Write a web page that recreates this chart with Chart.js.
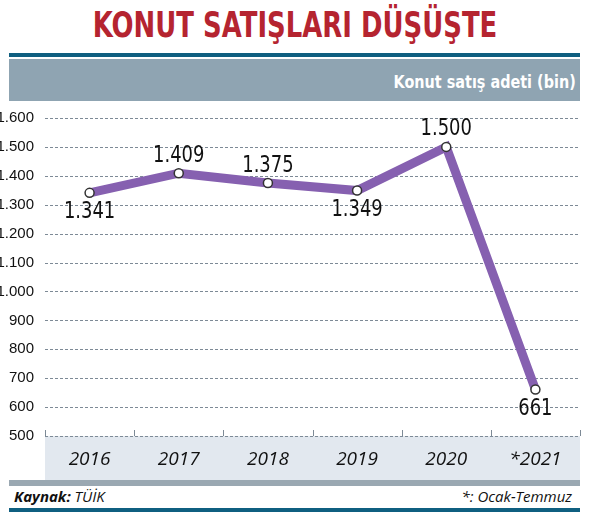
<!DOCTYPE html>
<html><head><meta charset="utf-8">
<script src="https://cdn.jsdelivr.net/npm/chart.js@4/dist/chart.umd.min.js"></script>
<style>
body{margin:0;width:590px;height:521px;background:#fff;position:relative;overflow:hidden;font-family:'DejaVu Sans',sans-serif}
.abs{position:absolute}
</style></head><body>
<div class="abs" style="left:0;top:4px;width:590px;text-align:center;font-size:36px;font-weight:bold;color:#b52430;transform:scaleX(0.72);font-family:'DejaVu Sans',sans-serif">KONUT SATIŞLARI DÜŞÜŞTE</div>
<div class="abs" style="left:9px;top:53px;width:571px;height:4px;background:#0f5f80"></div>
<div class="abs" style="left:9px;top:59px;width:571px;height:42px;background:#8fa4b2"></div>
<div class="abs" style="right:14px;top:71px;color:#fff;font-weight:bold;font-size:18px;transform:scaleX(0.8);transform-origin:right center">Konut satış adeti (bin)</div>
<div class="abs" style="left:45px;top:436px;width:535px;height:44px;background:#e2e8ef"></div>
<div class="abs" style="left:9px;top:480px;width:571px;height:6px;background:#9aa8b2"></div>
<div class="abs" style="left:14px;top:486px;font-family:'Open Sans',sans-serif;font-style:italic;font-size:15px;color:#111"><b>Kaynak:</b> TÜİK</div>
<div class="abs" style="right:18px;top:486px;font-family:'Open Sans',sans-serif;font-style:italic;font-size:15px;color:#111">*: Ocak-Temmuz</div>
<div class="abs" style="left:9px;top:508px;width:571px;height:4px;background:#0f5f80"></div>
<canvas id="c" class="abs" style="left:0;top:100px;width:590px;height:380px"></canvas>
<script>
const categories=['2016','2017','2018','2019','2020','*2021'];
const values=[1341,1409,1375,1349,1500,661];
const valueLabels=['1.341','1.409','1.375','1.349','1.500','661'];
const labelBelow=[true,false,false,true,false,true];
const yTicks=[500,600,700,800,900,1000,1100,1200,1300,1400,1500,1600];
const fmt=v=>v>=1000?(Math.floor(v/1000)+'.'+String(v%1000).padStart(3,'0')):String(v);
const F="'DejaVu Sans',sans-serif";
const gridPlugin={id:'grid',beforeDatasetsDraw(ch){const c=ch.ctx,y=ch.scales.y,a=ch.chartArea;c.save();c.strokeStyle='#7d8a96';c.lineWidth=1;c.setLineDash([3,2]);
yTicks.forEach(v=>{const py=Math.round(y.getPixelForValue(v))+0.5;c.beginPath();c.moveTo(a.left,py);c.lineTo(a.right,py);c.stroke();});
c.setLineDash([]);const x=ch.scales.x;for(let i=0;i<=categories.length;i++){const px=Math.round(x.getPixelForValue(i-0.5))+0.5;const py=y.getPixelForValue(500);c.beginPath();c.moveTo(px,py);c.lineTo(px,py-6);c.stroke();}
c.restore();}};
const lblPlugin={id:'lbl',afterDatasetsDraw(ch){const c=ch.ctx;const m=ch.getDatasetMeta(0);
m.data.forEach((p,i)=>{c.save();c.translate(p.x,labelBelow[i]?p.y+8:p.y-6);c.scale(0.78,1);c.font='23px '+F;c.fillStyle='#111';c.textAlign='center';c.textBaseline=labelBelow[i]?'top':'bottom';c.fillText(valueLabels[i],0,0);c.restore();});}};
new Chart(document.getElementById('c'),{type:'line',
data:{labels:categories,datasets:[{data:values,borderColor:'#8660b0',borderWidth:9,pointBackgroundColor:'#fff',pointBorderColor:'#333',pointBorderWidth:1.5,pointRadius:4.5,tension:0}]},
options:{responsive:false,animation:false,devicePixelRatio:1,layout:{padding:{top:18,right:10,left:0,bottom:0}},
plugins:{legend:{display:false},tooltip:{enabled:false}},
scales:{
y:{min:500,max:1600,afterFit(s){s.width=45;},afterBuildTicks(s){s.ticks=yTicks.map(v=>({value:v}));},
ticks:{callback:v=>fmt(v),color:'#111',font:{family:"'Liberation Sans',sans-serif",size:15},padding:3},
grid:{display:false},border:{display:false}},
x:{offset:true,afterFit(s){s.height=44;},ticks:{color:'#111',font:{family:"'Open Sans',sans-serif",size:19,style:'italic'},padding:4},
grid:{display:false},border:{display:false}}}},
plugins:[gridPlugin,lblPlugin]});
</script>
</body></html>
